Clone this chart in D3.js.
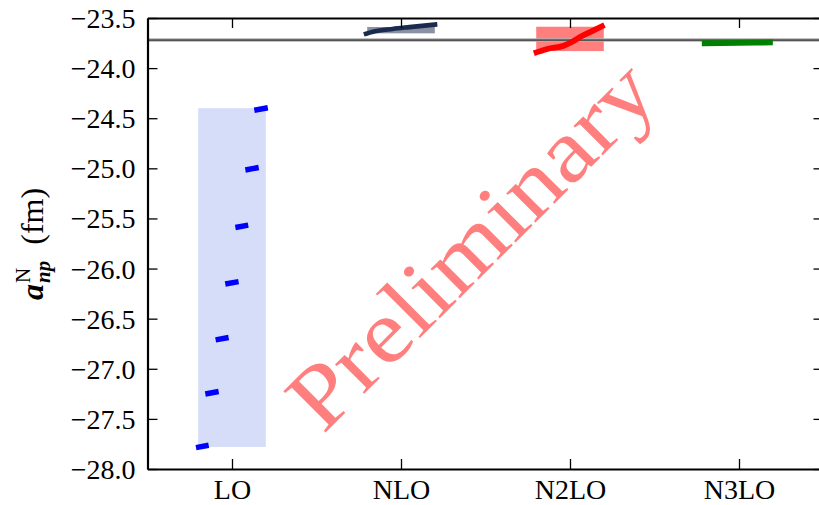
<!DOCTYPE html>
<html>
<head>
<meta charset="utf-8">
<script src="https://cdn.jsdelivr.net/npm/d3@7"></script>
<style>
  html, body { margin: 0; padding: 0; background: #fff; }
  svg { display: block; }
  text { font-family: "Liberation Serif", "DejaVu Serif", serif; }
</style>
</head>
<body>
<svg id="chart" width="819" height="505"></svg>
<script>
// Chiral orders on the x axis
const categories = ["LO", "NLO", "N2LO", "N3LO"];
// y-axis tick values (fm)
const yTickValues = [-28.0, -27.5, -27.0, -26.5, -26.0, -25.5, -25.0, -24.5, -24.0, -23.5];

// Uncertainty band per order (fm)
const bandLow  = [-27.78, -23.653, -23.83, -23.755];
const bandHigh = [-24.40, -23.590, -23.587, -23.738];

// Reference value of the scattering length (fm)
const referenceValue = -23.72;

// LO: separate short segments (offset from the category centre, value at each end)
const loStartOffset = [-0.213, -0.158, -0.097, -0.040, 0.020, 0.079, 0.132];
const loEndOffset   = [-0.138, -0.079, -0.020, 0.039, 0.096, 0.158, 0.212];
const loStartValue  = [-27.787, -27.251, -26.712, -26.154, -25.591, -25.016, -24.420];
const loEndValue    = [-27.763, -27.227, -26.688, -26.130, -25.567, -24.992, -24.396];

// Higher orders: continuous curves (offset from the category centre, value)
const nloOffset  = [-0.22, -0.16, -0.05, 0.05, 0.215];
const nloValue   = [-23.663, -23.634, -23.609, -23.591, -23.563];
const n2loOffset = [-0.214, -0.135, -0.037, 0.013, 0.062, 0.131, 0.204];
const n2loValue  = [-23.852, -23.809, -23.776, -23.737, -23.687, -23.630, -23.570];
const n3loOffset = [-0.22, 0.00, 0.20];
const n3loValue  = [-23.752, -23.748, -23.744];

const serif = "'Liberation Serif', 'DejaVu Serif', serif";
const svg = d3.select("#chart");

const x = d3.scaleLinear().domain([-0.5, 3.5]).range([147.5, 823.5]);
const y = d3.scaleLinear().domain([-28.0, -23.5]).range([469, 18]);
const bandHalf = 0.2;

svg.append("clipPath").attr("id", "plot-clip")
  .append("rect")
  .attr("x", x(-0.5)).attr("y", y(-23.5))
  .attr("width", x(3.5) - x(-0.5)).attr("height", y(-28) - y(-23.5));

const plot = svg.append("g").attr("clip-path", "url(#plot-clip)");

// Bands
const bandFill = ["rgba(51,85,221,0.2)", "rgba(22,36,71,0.5)", "rgba(255,0,0,0.5)", "rgba(0,128,0,0.5)"];
plot.selectAll("rect.band")
  .data(categories)
  .join("rect")
  .attr("class", "band")
  .attr("x", (d, i) => x(i - bandHalf))
  .attr("width", (d, i) => x(i + bandHalf) - x(i - bandHalf))
  .attr("y", (d, i) => y(bandHigh[i]))
  .attr("height", (d, i) => y(bandLow[i]) - y(bandHigh[i]))
  .attr("fill", (d, i) => bandFill[i]);

// "Preliminary" watermark
svg.append("text")
  .attr("transform", "translate(492,266) rotate(-45)")
  .attr("text-anchor", "middle")
  .style("font-family", serif)
  .attr("font-size", 90)
  .attr("textLength", 478)
  .attr("lengthAdjust", "spacingAndGlyphs")
  .attr("fill", "#ff0000")
  .attr("fill-opacity", 0.5)
  .text("Preliminary");

// Reference line
plot.append("line")
  .attr("x1", x(-0.5)).attr("x2", x(3.5))
  .attr("y1", y(referenceValue)).attr("y2", y(referenceValue))
  .attr("stroke", "#b0b0b0").attr("stroke-width", 3.4);
plot.append("line")
  .attr("x1", x(-0.5)).attr("x2", x(3.5))
  .attr("y1", y(referenceValue)).attr("y2", y(referenceValue))
  .attr("stroke", "#555").attr("stroke-width", 1.8);

// LO segments
plot.selectAll("line.lo")
  .data(loStartOffset)
  .join("line")
  .attr("class", "lo")
  .attr("x1", (d, i) => x(0 + loStartOffset[i]))
  .attr("x2", (d, i) => x(0 + loEndOffset[i]))
  .attr("y1", (d, i) => y(loStartValue[i]))
  .attr("y2", (d, i) => y(loEndValue[i]))
  .attr("stroke", "#0000ff")
  .attr("stroke-width", 5.5);

// Higher-order curves
const curves = [
  { idx: 1, off: nloOffset, val: nloValue, color: "#1b2a4e", width: 4.6 },
  { idx: 2, off: n2loOffset, val: n2loValue, color: "#ff0000", width: 5.8 },
  { idx: 3, off: n3loOffset, val: n3loValue, color: "#008000", width: 5.8 }
];
const lineGen = d3.line().x(d => x(d[0])).y(d => y(d[1])).curve(d3.curveMonotoneX);
curves.forEach(c => {
  const pts = c.off.map((o, k) => [c.idx + o, c.val[k]]);
  plot.append("path")
    .attr("d", lineGen(pts))
    .attr("fill", "none")
    .attr("stroke", c.color)
    .attr("stroke-width", c.width)
    .attr("stroke-linejoin", "round");
});

// Axes (ticks pointing inward, on all four sides)
const tickLen = 10;
const fmt = d3.format(".1f");
const axisLeftG = svg.append("g").attr("transform", `translate(${x(-0.5)},0)`)
  .call(d3.axisLeft(y).tickValues(yTickValues).tickFormat(fmt).tickSizeInner(-tickLen).tickSizeOuter(0).tickPadding(12));
const axisRightG = svg.append("g").attr("transform", `translate(${x(3.5)},0)`)
  .call(d3.axisRight(y).tickValues(yTickValues).tickFormat("").tickSizeInner(-tickLen).tickSizeOuter(0));
const axisBottomG = svg.append("g").attr("transform", `translate(0,${y(-28)})`)
  .call(d3.axisBottom(x).tickValues([0, 1, 2, 3]).tickFormat(i => categories[i]).tickSizeInner(-tickLen).tickSizeOuter(0));
const axisTopG = svg.append("g").attr("transform", `translate(0,${y(-23.5)})`)
  .call(d3.axisTop(x).tickValues([0, 1, 2, 3]).tickFormat("").tickSizeInner(-tickLen).tickSizeOuter(0));

[axisLeftG, axisRightG, axisBottomG, axisTopG].forEach(g => {
  g.attr("font-family", null).style("font-family", serif);
  g.select(".domain").attr("stroke", "#000").attr("stroke-width", 2.2);
  g.selectAll(".tick line").attr("stroke", "#000").attr("stroke-width", 1.3);
  g.selectAll(".tick text").attr("fill", "#000").attr("font-size", 28).style("font-family", serif);
});
axisLeftG.selectAll(".tick text").attr("dy", "0.34em");
axisBottomG.selectAll(".tick text").attr("y", 30).attr("dy", 0);

// y-axis title: a^N_np (fm)
const title = svg.append("text")
  .attr("transform", "translate(43,244) rotate(-90)")
  .attr("text-anchor", "middle")
  .style("font-family", serif)
  .attr("font-size", 32)
  .attr("fill", "#000");
title.append("tspan").attr("font-weight", "bold").attr("font-style", "italic").text("a");
title.append("tspan").attr("font-size", 21).attr("dy", -13).attr("dx", 1).text("N");
title.append("tspan").attr("font-size", 21).attr("font-weight", "bold").attr("font-style", "italic").attr("dx", -15).attr("dy", 20).text("np");
title.append("tspan").attr("dy", -7).text("\u2002(fm)");
</script>
</body>
</html>
